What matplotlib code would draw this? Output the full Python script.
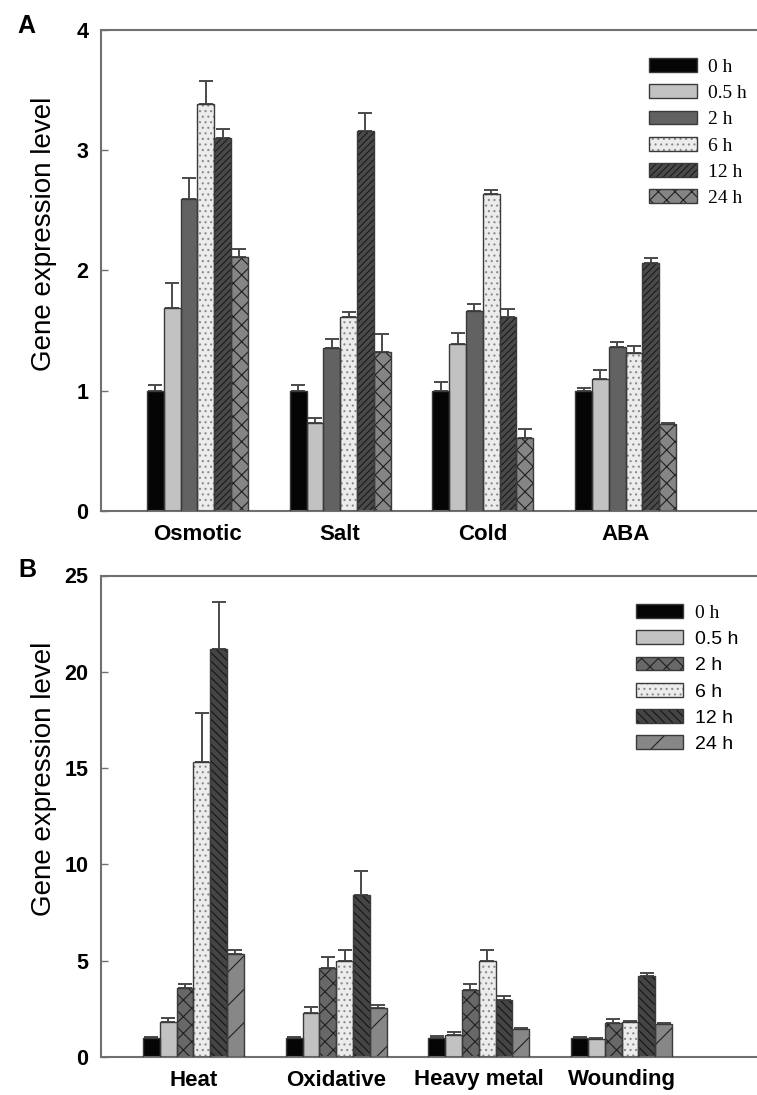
import matplotlib
matplotlib.use('Agg')
import matplotlib.pyplot as plt
import numpy as np
from matplotlib.patches import Patch
from matplotlib.legend_handler import HandlerTuple

plt.rcParams['font.family'] = ['Liberation Sans', 'DejaVu Sans']
plt.rcParams['hatch.linewidth'] = 0.8

# ---------------- data ----------------
time_labels = ['0 h', '0.5 h', '2 h', '6 h', '12 h', '24 h']

cats_a = ['Osmotic', 'Salt', 'Cold', 'ABA']
a_vals = {
    '0 h':   [1.00, 1.00, 1.00, 1.00],
    '0.5 h': [1.69, 0.73, 1.39, 1.10],
    '2 h':   [2.59, 1.35, 1.66, 1.36],
    '6 h':   [3.38, 1.61, 2.63, 1.31],
    '12 h':  [3.10, 3.16, 1.61, 2.06],
    '24 h':  [2.11, 1.32, 0.61, 0.72],
}
a_err = {
    '0 h':   [0.05, 0.05, 0.07, 0.02],
    '0.5 h': [0.20, 0.04, 0.09, 0.07],
    '2 h':   [0.18, 0.08, 0.06, 0.04],
    '6 h':   [0.19, 0.04, 0.04, 0.06],
    '12 h':  [0.07, 0.15, 0.07, 0.04],
    '24 h':  [0.07, 0.15, 0.07, 0.01],
}

cats_b = ['Heat', 'Oxidative', 'Heavy metal', 'Wounding']
b_vals = {
    '0 h':   [1.00, 1.00, 1.00, 1.00],
    '0.5 h': [1.80, 2.30, 1.12, 0.95],
    '2 h':   [3.60, 4.60, 3.50, 1.75],
    '6 h':   [15.30, 5.00, 5.00, 1.80],
    '12 h':  [21.20, 8.40, 2.95, 4.20],
    '24 h':  [5.35, 2.55, 1.45, 1.72],
}
b_err = {
    '0 h':   [0.03, 0.05, 0.08, 0.03],
    '0.5 h': [0.22, 0.28, 0.20, 0.06],
    '2 h':   [0.20, 0.60, 0.30, 0.20],
    '6 h':   [2.55, 0.55, 0.55, 0.06],
    '12 h':  [2.45, 1.25, 0.22, 0.18],
    '24 h':  [0.22, 0.13, 0.04, 0.05],
}

# ---------------- styles ----------------
style_a = [
    dict(fc='#050505', hatch=None, hc='#333333'),
    dict(fc='#c2c2c2', hatch=None, hc='#333333'),
    dict(fc='#626262', hatch=None, hc='#333333'),
    dict(fc='#ececec', hatch='...', hc='#8a8a8a'),
    dict(fc='#4a4a4a', hatch='/////', hc='#1a1a1a'),
    dict(fc='#858585', hatch='xx', hc='#202020'),
]
style_b = [
    dict(fc='#050505', hatch=None, hc='#333333'),
    dict(fc='#c2c2c2', hatch=None, hc='#333333'),
    dict(fc='#686868', hatch='xx', hc='#202020'),
    dict(fc='#ececec', hatch='...', hc='#8a8a8a'),
    dict(fc='#454545', hatch='\\\\\\\\', hc='#151515'),
    dict(fc='#878787', hatch='/', hc='#202020'),
]
EDGE = '#3a3a3a'
SPINE = '#707070'

W, H = 757, 1095
fig = plt.figure(figsize=(W / 100, H / 100), dpi=100)

def px_ax(left, top, right, bottom):
    return fig.add_axes([left / W, 1 - bottom / H, (right - left) / W, (bottom - top) / H])

ax_a = px_ax(101, 29.5, 757, 511)
ax_b = px_ax(101, 575.5, 757, 1057)

bw = 16.8 / 142.7


def draw_panel(ax, cats, vals, errs, styles, ylim, yticks, xlim):
    x = np.arange(len(cats))
    handles = []
    for i, t in enumerate(time_labels):
        st = styles[i]
        pos = x + (i - 2.5) * bw
        v = np.array(vals[t])
        e = np.array(errs[t])
        ax.bar(pos, v, width=bw, color=st['fc'], edgecolor=st['hc'],
               hatch=st['hatch'], linewidth=0, zorder=2)
        ax.bar(pos, v, width=bw, fill=False, edgecolor=EDGE, linewidth=1.0, zorder=3)
        ax.errorbar(pos, v, yerr=[np.zeros_like(e), e], fmt='none',
                    ecolor='#4a4a4a', elinewidth=1.4, capsize=5.2, capthick=1.4, zorder=1)
        handles.append((Patch(facecolor=st['fc'], edgecolor=st['hc'], hatch=st['hatch'],
                              linewidth=0),
                        Patch(facecolor='none', edgecolor=EDGE, linewidth=1.0)))
    ax.set_xlim(*xlim)
    ax.set_ylim(*ylim)
    ax.set_yticks(yticks)
    ax.set_xticks(x)
    ax.set_xticklabels(cats, fontsize=16, fontweight='bold')
    ax.tick_params(axis='x', length=0, pad=9)
    ax.tick_params(axis='y', direction='in', length=5, width=1, color=SPINE,
                   labelsize=15.5, pad=9)
    for lab in ax.get_yticklabels():
        lab.set_fontweight('bold')
    for s in ['left', 'top', 'bottom']:
        ax.spines[s].set_color(SPINE)
        ax.spines[s].set_linewidth(1.5)
    ax.spines['right'].set_visible(False)
    ax.set_ylabel('Gene expression level', fontsize=20)
    return handles


h_a = draw_panel(ax_a, cats_a, a_vals, a_err, style_a, (0, 4), [0, 1, 2, 3, 4],
                 (-0.676, 3.921))
h_b = draw_panel(ax_b, cats_b, b_vals, b_err, style_b, (0, 25), [0, 5, 10, 15, 20, 25],
                 (-0.648, 3.949))

ax_a.yaxis.set_label_coords(-0.067, 0.575)
ax_b.yaxis.set_label_coords(-0.067, 0.577)

hmap = {tuple: HandlerTuple(ndivide=1, pad=0)}

leg_a = fig.legend(h_a, time_labels, handler_map=hmap,
                   loc='upper left', bbox_to_anchor=(649 / W, 1 - 58 / H),
                   frameon=False, borderpad=0, borderaxespad=0,
                   handlelength=2.47, handleheight=0.72, handletextpad=0.55,
                   labelspacing=0.44, prop={'family': 'Liberation Serif', 'size': 14})

leg_b = fig.legend(h_b, time_labels, handler_map=hmap,
                   loc='upper left', bbox_to_anchor=(636 / W, 1 - 604 / H),
                   frameon=False, borderpad=0, borderaxespad=0,
                   handlelength=2.42, handleheight=0.72, handletextpad=0.6,
                   labelspacing=0.44, prop={'family': 'Liberation Sans', 'size': 14})
leg_b.get_texts()[0].set_family('Liberation Serif')

fig.text(17 / W, 1 - 33 / H, 'A', fontsize=18, fontweight='bold', va='baseline')
fig.text(18 / W, 1 - 577 / H, 'B', fontsize=18, fontweight='bold', va='baseline')

fig.savefig('out.png', dpi=100)
